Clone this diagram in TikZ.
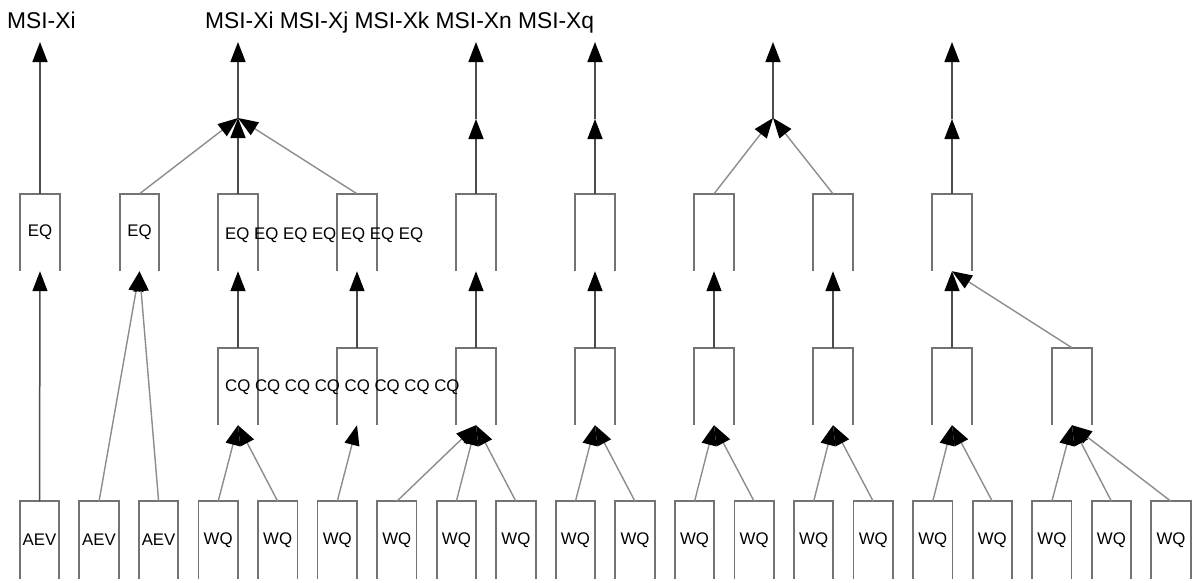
\documentclass[tikz,border=0pt]{standalone}
\usepackage{fontspec}
\setmainfont{Liberation Sans}
\usetikzlibrary{arrows.meta}

\begin{document}
\begin{tikzpicture}[x=1pt, y=-1pt,
    every node/.style={font=\fontsize{16.8}{18}\selectfont},
    bin/.style={rectangle, inner sep=0pt, minimum width=39pt, minimum height=77pt},
    frame/.style={draw=black!55, line width=1.8pt},
    feed/.style={draw=black!45, line width=1.4pt, -{Triangle[length=20pt,width=15pt,black]}},
    rise/.style={draw=black!70, line width=1.5pt, -{Triangle[length=20pt,width=15pt,black]}}]
  \useasboundingbox (0,0) rectangle (1196,582);
  % bottom row
  \foreach \i/\t in {1/AEV,2/AEV,3/AEV,4/WQ,5/WQ,6/WQ,7/WQ,8/WQ,9/WQ,10/WQ,
                     11/WQ,12/WQ,13/WQ,14/WQ,15/WQ,16/WQ,17/WQ,18/WQ,19/WQ,20/WQ}
    \node[bin] (b\i) at ({39.5+59.55*(\i-1)},540) {\t};
  % middle row
  \foreach \i/\x in {1/238,2/357,3/476,4/595,5/714,6/833,7/952,8/1072}
    \node[bin] (m\i) at (\x,386.5) {};
  % upper row
  \node[bin] (t1) at (40,232.5) {EQ};
  \node[bin] (t2) at (139.5,232.5) {EQ};
  \foreach \i/\x in {3/238,4/357,5/476,6/595,7/714,8/833,9/952}
    \node[bin] (t\i) at (\x,232.5) {};
  % open frames
  \foreach \i in {1,...,20}
    \draw[frame] (b\i.south west) -- (b\i.north west) -- (b\i.north east) -- (b\i.south east);
  \foreach \i in {1,...,8}
    \draw[frame] (m\i.south west) -- (m\i.north west) -- (m\i.north east) -- (m\i.south east);
  \foreach \i in {1,...,9}
    \draw[frame] (t\i.south west) -- (t\i.north west) -- (t\i.north east) -- (t\i.south east);
  % row texts
  \node[anchor=base west, inner sep=0pt] (eqrow) at (225,239) {EQ EQ EQ EQ EQ EQ EQ};
  \node[anchor=base west, inner sep=0pt] (cqrow) at (225,391.5) {CQ CQ CQ CQ CQ CQ CQ CQ};
  \node[anchor=base west, inner sep=0pt, font=\fontsize{22.8}{24}\selectfont] (lab1) at (7,28) {MSI-Xi};
  \node[anchor=base west, inner sep=0pt, font=\fontsize{22.8}{24}\selectfont] (lab2) at (205,28)
    {MSI-Xi MSI-Xj MSI-Xk MSI-Xn MSI-Xq};
  % joints and outputs
  \coordinate (j1) at (238,118);
  \coordinate (j2) at (476,119);
  \coordinate (j3) at (595,119);
  \coordinate (j4) at (773,118);
  \coordinate (j5) at (952,119);
  \foreach \n/\x in {o1/40,o2/238,o3/476,o4/595,o5/773,o6/952}
    \coordinate (\n) at (\x,42);
  % bottom into middle
  \draw[rise] (b1.north) -- (t1.south);
  \draw[feed] (b2.north) -- (t2.south);
  \draw[feed] (b3.north) -- (t2.south);
  \foreach \b/\m in {4/1,5/1,6/2,7/3,8/3,9/3,10/4,11/4,12/5,13/5,14/6,15/6,16/7,17/7,18/8,19/8,20/8}
    \draw[feed] (b\b.north) -- (m\m.south);
  % middle into upper
  \foreach \m/\t in {1/3,2/4,3/5,4/6,5/7,6/8,7/9}
    \draw[rise] (m\m.north) -- (t\t.south);
  \draw[feed] (m8.north) -- (t9.south);
  % upper into joints
  \draw[feed] (t2.north) -- (j1);
  \draw[rise] (t3.north) -- (j1);
  \draw[feed] (t4.north) -- (j1);
  \draw[rise] (t5.north) -- (j2);
  \draw[rise] (t6.north) -- (j3);
  \draw[feed] (t7.north) -- (j4);
  \draw[feed] (t8.north) -- (j4);
  \draw[rise] (t9.north) -- (j5);
  % outputs
  \draw[rise] (t1.north) -- (o1);
  \draw[rise] (j1) -- (o2);
  \draw[rise] (j2) -- (o3);
  \draw[rise] (j3) -- (o4);
  \draw[rise] (j4) -- (o5);
  \draw[rise] (j5) -- (o6);
\end{tikzpicture}
\end{document}
